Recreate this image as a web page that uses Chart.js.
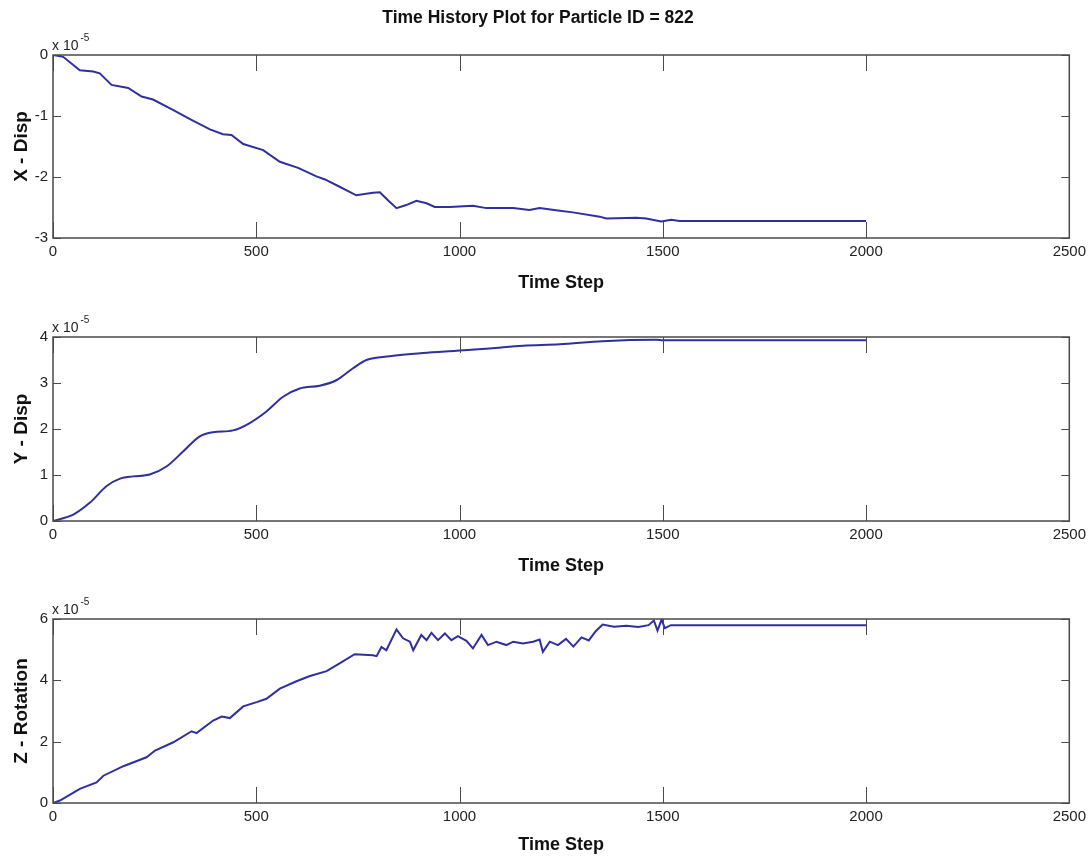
<!DOCTYPE html>
<html>
<head>
<meta charset="utf-8">
<script src="https://cdn.jsdelivr.net/npm/chart.js@4.4.1/dist/chart.umd.min.js"></script>
<style>
  html, body { margin: 0; padding: 0; background: #fff; }
  #wrap { position: relative; width: 1091px; height: 861px; overflow: hidden; }
  #wrap canvas { position: absolute; left: 0; }
</style>
</head>
<body>
<div id="wrap">
  <canvas id="xChart" width="1091" height="300" style="top:0px"></canvas>
  <canvas id="yChart" width="1091" height="281" style="top:300px"></canvas>
  <canvas id="zChart" width="1091" height="280" style="top:581px"></canvas>
</div>
<script>
// values in units of 1e-5
const xSteps = [0, 25, 66, 99, 115, 144, 185, 218, 246, 295, 337, 386, 418, 439, 468, 517, 558, 603, 648, 669,
  705, 746, 787, 804, 824, 845, 869, 894, 919, 939, 976, 1033, 1066, 1132, 1172, 1197, 1242, 1279, 1345, 1361,
  1435, 1459, 1496, 1521, 1541, 2000];
const xDisp = [0, -0.03, -0.25, -0.27, -0.30, -0.49, -0.54, -0.68, -0.73, -0.90, -1.05, -1.22, -1.30, -1.31, -1.46,
  -1.56, -1.75, -1.85, -1.99, -2.04, -2.16, -2.30, -2.26, -2.25, -2.38, -2.51, -2.46, -2.39, -2.43, -2.49, -2.49,
  -2.47, -2.51, -2.51, -2.54, -2.51, -2.55, -2.58, -2.65, -2.68, -2.67, -2.68, -2.73, -2.70, -2.72, -2.72];

const ySteps = [0, 17, 50, 91, 132, 165, 197, 238, 280, 320, 361, 394, 443, 484, 525, 566, 607, 656, 697, 738,
  771, 828, 910, 992, 1074, 1156, 1246, 1352, 1484, 1500, 2000];
const yDisp = [0, 0.04, 0.14, 0.40, 0.76, 0.92, 0.97, 1.01, 1.19, 1.51, 1.84, 1.93, 1.97, 2.13, 2.38, 2.70, 2.88,
  2.94, 3.06, 3.32, 3.50, 3.58, 3.65, 3.70, 3.75, 3.81, 3.84, 3.91, 3.94, 3.93, 3.93];

const zSteps = [0, 17, 66, 107, 124, 173, 230, 251, 296, 341, 353, 394, 415, 435, 468, 501, 525, 558, 599, 632,
  673, 705, 742, 787, 796, 808, 820, 845, 861, 878, 886, 906, 919, 931, 947, 964, 980, 996, 1017, 1033, 1054,
  1070, 1091, 1115, 1132, 1156, 1181, 1197, 1205, 1222, 1242, 1262, 1280, 1300, 1318, 1335, 1352, 1380, 1410,
  1440, 1465, 1478, 1487, 1497, 1505, 1520, 2000];
const zRot = [0, 0.08, 0.46, 0.67, 0.89, 1.20, 1.49, 1.71, 1.98, 2.34, 2.28, 2.69, 2.82, 2.77, 3.15, 3.29, 3.40,
  3.73, 3.97, 4.14, 4.30, 4.55, 4.85, 4.82, 4.79, 5.09, 4.98, 5.66, 5.37, 5.26, 4.98, 5.48, 5.31, 5.55, 5.31,
  5.53, 5.31, 5.44, 5.29, 5.04, 5.48, 5.15, 5.26, 5.15, 5.26, 5.20, 5.26, 5.33, 4.93, 5.26, 5.15, 5.35, 5.10,
  5.40, 5.30, 5.60, 5.82, 5.75, 5.78, 5.74, 5.80, 5.95, 5.62, 5.98, 5.70, 5.80, 5.80];

const xTickMax = 2500;
const mainTitle = 'Time History Plot for Particle ID = 822';
const xTitle = 'Time Step';

const FONT = "'Liberation Sans', Arial, sans-serif";
const LINE_COLOR = '#2f2f9f';

// MATLAB-ish box with inward ticks and the "x 10^-5" multiplier
const matlabBox = {
    id: 'matlabBox',
    afterDraw(chart, args, opts) {
        const { ctx, chartArea: a } = chart;
        const xs = chart.scales.x, ys = chart.scales.y;
        ctx.save();
        ctx.strokeStyle = '#4a4a4a';
        ctx.lineWidth = 1.5;
        ctx.strokeRect(a.left, a.top, a.width, a.height);
        ctx.beginPath();
        xs.ticks.forEach(t => {
            const px = Math.round(xs.getPixelForValue(t.value)) + 0.5;
            ctx.moveTo(px, a.bottom); ctx.lineTo(px, a.bottom - 16);
            ctx.moveTo(px, a.top); ctx.lineTo(px, a.top + 16);
        });
        ys.ticks.forEach(t => {
            const py = Math.round(ys.getPixelForValue(t.value)) + 0.5;
            ctx.moveTo(a.left, py); ctx.lineTo(a.left + 8, py);
            ctx.moveTo(a.right, py); ctx.lineTo(a.right - 8, py);
        });
        ctx.lineWidth = 1;
        ctx.stroke();

        ctx.fillStyle = '#222';
        ctx.textBaseline = 'alphabetic';
        ctx.font = '14px ' + FONT;
        ctx.fillText('x 10', a.left - 1, a.top - 5);
        const w = ctx.measureText('x 10').width;
        ctx.font = '10px ' + FONT;
        ctx.fillText(opts.exponent, a.left + w + 1, a.top - 14);
        ctx.restore();
    }
};

function makeChart(id, steps, values, cfg) {
    const pts = steps.map((s, i) => ({ x: s, y: values[i] }));
    return new Chart(document.getElementById(id), {
        type: 'line',
        data: {
            datasets: [{
                data: pts, borderColor: LINE_COLOR, borderWidth: 2, pointRadius: 0, fill: false,
                tension: cfg.smooth ? 0.4 : 0, cubicInterpolationMode: cfg.smooth ? 'monotone' : 'default'
            }]
        },
        plugins: [matlabBox],
        options: {
            responsive: false, animation: false,
            layout: { padding: cfg.padding },
            plugins: {
                legend: { display: false },
                tooltip: { enabled: false },
                title: cfg.title ? {
                    display: true, text: cfg.title, color: '#111',
                    font: { family: FONT, size: 17.5, weight: 'bold' },
                    padding: { top: 8, bottom: 26 }
                } : { display: false },
                matlabBox: { exponent: '-5' }
            },
            scales: {
                x: {
                    type: 'linear', min: 0, max: xTickMax,
                    grid: { display: false, drawTicks: false },
                    border: { display: false },
                    ticks: {
                        stepSize: 500, padding: 5, maxRotation: 0, color: '#222',
                        font: { family: FONT, size: 15 },
                        callback: v => String(v)
                    },
                    title: { display: true, text: xTitle, color: '#111', font: { family: FONT, size: 18, weight: 'bold' } },
                    afterFit(scale) { scale.height = cfg.xAxisH; }
                },
                y: {
                    min: cfg.min, max: cfg.max,
                    grid: { display: false, drawTicks: false },
                    border: { display: false },
                    ticks: {
                        stepSize: cfg.step, padding: 5, color: '#222',
                        font: { family: FONT, size: 15 },
                        callback: v => String(v)
                    },
                    title: { display: true, text: cfg.yTitle, color: '#111', font: { family: FONT, size: 19, weight: 'bold' } },
                    afterFit(scale) { scale.width = 47; }
                }
            }
        }
    });
}

makeChart('xChart', xSteps, xDisp, {
    title: mainTitle, yTitle: 'X - Disp', min: -3, max: 0, step: 1, xAxisH: 60,
    padding: { left: 6, right: 21, top: 0, bottom: 2 }
});
makeChart('yChart', ySteps, yDisp, {
    yTitle: 'Y - Disp', min: 0, max: 4, step: 1, xAxisH: 60, smooth: true,
    padding: { left: 6, right: 21, top: 37, bottom: 0 }
});
makeChart('zChart', zSteps, zRot, {
    yTitle: 'Z - Rotation', min: 0, max: 6, step: 2, xAxisH: 57,
    padding: { left: 6, right: 21, top: 38, bottom: 1 }
});
</script>
</body>
</html>
